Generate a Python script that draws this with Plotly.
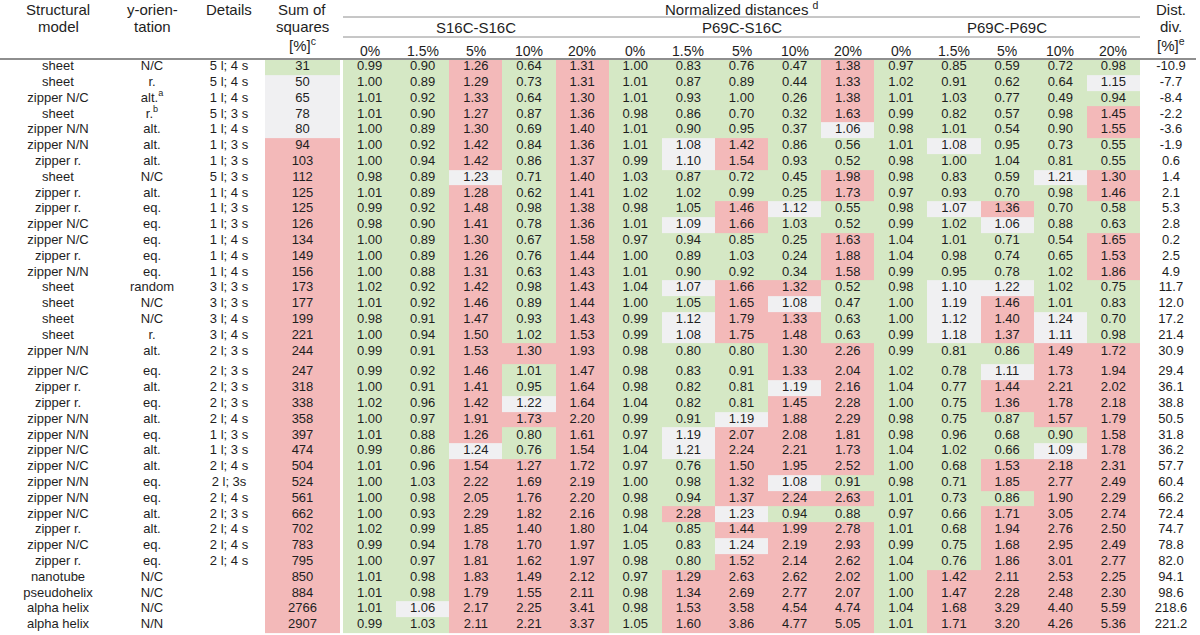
import plotly.graph_objects as go

# ---------------- data ----------------
models = ["sheet", "sheet", "zipper N/C", "sheet", "zipper N/N", "zipper N/N", "zipper r.", "sheet",
          "zipper r.", "zipper r.", "zipper N/C", "zipper N/C", "zipper r.", "zipper N/N", "sheet", "sheet",
          "sheet", "sheet", "zipper N/N", "zipper N/C", "zipper r.", "zipper r.", "zipper N/N", "zipper N/N",
          "zipper N/C", "zipper N/C", "zipper N/N", "zipper N/N", "zipper N/C", "zipper r.", "zipper N/C",
          "zipper r.", "nanotube", "pseudohelix", "alpha helix", "alpha helix"]
orient = ["N/C", "r.", "alt.<sup>a</sup>", "r.<sup>b</sup>", "alt.", "alt.", "alt.", "N/C", "alt.", "eq.",
          "eq.", "eq.", "eq.", "eq.", "random", "N/C", "N/C", "r.", "alt.", "eq.", "alt.", "eq.", "alt.",
          "eq.", "alt.", "alt.", "eq.", "eq.", "alt.", "alt.", "eq.", "eq.", "N/C", "N/C", "N/C", "N/N"]
details = ["5 l; 4 s", "5 l; 4 s", "1 l; 4 s", "5 l; 3 s", "1 l; 4 s", "1 l; 3 s", "1 l; 3 s", "5 l; 3 s",
           "1 l; 4 s", "1 l; 3 s", "1 l; 3 s", "1 l; 4 s", "1 l; 4 s", "1 l; 4 s", "3 l; 3 s", "3 l; 3 s",
           "3 l; 4 s", "3 l; 4 s", "2 l; 3 s", "2 l; 3 s", "2 l; 3 s", "2 l; 3 s", "2 l; 4 s", "1 l; 3 s",
           "1 l; 3 s", "2 l; 4 s", "2 l; 3s", "2 l; 4 s", "2 l; 3 s", "2 l; 4 s", "2 l; 4 s", "2 l; 4 s",
           "", "", "", ""]
sumsq = [31, 50, 65, 78, 80, 94, 103, 112, 125, 125, 126, 134, 149, 156, 173, 177, 199, 221, 244, 247,
         318, 338, 358, 397, 474, 504, 524, 561, 662, 702, 783, 795, 850, 884, 2766, 2907]

s16_0 = [0.99, 1.00, 1.01, 1.01, 1.00, 1.00, 1.00, 0.98, 1.01, 0.99, 0.98, 1.00, 1.00, 1.00, 1.02, 1.01, 0.98, 1.00,
         0.99, 0.99, 1.00, 1.02, 1.00, 1.01, 0.99, 1.01, 1.00, 1.00, 1.00, 1.02, 0.99, 1.00, 1.01, 1.01, 1.01, 0.99]
s16_15 = [0.90, 0.89, 0.92, 0.90, 0.89, 0.92, 0.94, 0.89, 0.89, 0.92, 0.90, 0.89, 0.89, 0.88, 0.92, 0.92, 0.91, 0.94,
          0.91, 0.92, 0.91, 0.96, 0.97, 0.88, 0.86, 0.96, 1.03, 0.98, 0.93, 0.99, 0.94, 0.97, 0.98, 0.98, 1.06, 1.03]
s16_5 = [1.26, 1.29, 1.33, 1.27, 1.30, 1.42, 1.42, 1.23, 1.28, 1.48, 1.41, 1.30, 1.26, 1.31, 1.42, 1.46, 1.47, 1.50,
         1.53, 1.46, 1.41, 1.42, 1.91, 1.26, 1.24, 1.54, 2.22, 2.05, 2.29, 1.85, 1.78, 1.81, 1.83, 1.79, 2.17, 2.11]
s16_10 = [0.64, 0.73, 0.64, 0.87, 0.69, 0.84, 0.86, 0.71, 0.62, 0.98, 0.78, 0.67, 0.76, 0.63, 0.98, 0.89, 0.93, 1.02,
          1.30, 1.01, 0.95, 1.22, 1.73, 0.80, 0.76, 1.27, 1.69, 1.76, 1.82, 1.40, 1.70, 1.62, 1.49, 1.55, 2.25, 2.21]
s16_20 = [1.31, 1.31, 1.30, 1.36, 1.40, 1.36, 1.37, 1.40, 1.41, 1.38, 1.36, 1.58, 1.44, 1.43, 1.43, 1.44, 1.43, 1.53,
          1.93, 1.47, 1.64, 1.64, 2.20, 1.61, 1.54, 1.72, 2.19, 2.20, 2.16, 1.80, 1.97, 1.97, 2.12, 2.11, 3.41, 3.37]

ps_0 = [1.00, 1.01, 1.01, 0.98, 1.01, 1.01, 0.99, 1.03, 1.02, 0.98, 1.01, 0.97, 1.00, 1.01, 1.04, 1.00, 0.99, 0.99,
        0.98, 0.98, 0.98, 1.04, 0.99, 0.97, 1.04, 0.97, 1.00, 0.98, 0.98, 1.04, 1.05, 0.98, 0.97, 0.98, 0.98, 1.05]
ps_15 = [0.83, 0.87, 0.93, 0.86, 0.90, 1.08, 1.10, 0.87, 1.02, 1.05, 1.09, 0.94, 0.89, 0.90, 1.07, 1.05, 1.12, 1.08,
         0.80, 0.83, 0.82, 0.82, 0.91, 1.19, 1.21, 0.76, 0.98, 0.94, 2.28, 0.85, 0.83, 0.80, 1.29, 1.34, 1.53, 1.60]
ps_5 = [0.76, 0.89, 1.00, 0.70, 0.95, 1.42, 1.54, 0.72, 0.99, 1.46, 1.66, 0.85, 1.03, 0.92, 1.66, 1.65, 1.79, 1.75,
        0.80, 0.91, 0.81, 0.81, 1.19, 2.07, 2.24, 1.50, 1.32, 1.37, 1.23, 1.44, 1.24, 1.52, 2.63, 2.69, 3.58, 3.86]
ps_10 = [0.47, 0.44, 0.26, 0.32, 0.37, 0.86, 0.93, 0.45, 0.25, 1.12, 1.03, 0.25, 0.24, 0.34, 1.32, 1.08, 1.33, 1.48,
         1.30, 1.33, 1.19, 1.45, 1.88, 2.08, 2.21, 1.95, 1.08, 2.24, 0.94, 1.99, 2.19, 2.14, 2.62, 2.77, 4.54, 4.77]
ps_20 = [1.38, 1.33, 1.38, 1.63, 1.06, 0.56, 0.52, 1.98, 1.73, 0.55, 0.52, 1.63, 1.88, 1.58, 0.52, 0.47, 0.63, 0.63,
         2.26, 2.04, 2.16, 2.28, 2.29, 1.81, 1.73, 2.52, 0.91, 2.63, 0.88, 2.78, 2.93, 2.62, 2.02, 2.07, 4.74, 5.05]

pp_0 = [0.97, 1.02, 1.01, 0.99, 0.98, 1.01, 0.98, 0.98, 0.97, 0.98, 0.99, 1.04, 1.04, 0.99, 0.98, 1.00, 1.00, 0.99,
        0.99, 1.02, 1.04, 1.00, 0.98, 0.98, 1.04, 1.00, 0.98, 1.01, 0.97, 1.01, 0.99, 1.04, 1.00, 1.00, 1.04, 1.01]
pp_15 = [0.85, 0.91, 1.03, 0.82, 1.01, 1.08, 1.00, 0.83, 0.93, 1.07, 1.02, 1.01, 0.98, 0.95, 1.10, 1.19, 1.12, 1.18,
         0.81, 0.78, 0.77, 0.75, 0.75, 0.96, 1.02, 0.68, 0.71, 0.73, 0.66, 0.68, 0.75, 0.76, 1.42, 1.47, 1.68, 1.71]
pp_5 = [0.59, 0.62, 0.77, 0.57, 0.54, 0.95, 1.04, 0.59, 0.70, 1.36, 1.06, 0.71, 0.74, 0.78, 1.22, 1.46, 1.40, 1.37,
        0.86, 1.11, 1.44, 1.36, 0.87, 0.68, 0.66, 1.53, 1.85, 0.86, 1.71, 1.94, 1.68, 1.86, 2.11, 2.28, 3.29, 3.20]
pp_10 = [0.72, 0.64, 0.49, 0.98, 0.90, 0.73, 0.81, 1.21, 0.98, 0.70, 0.88, 0.54, 0.65, 1.02, 1.02, 1.01, 1.24, 1.11,
         1.49, 1.73, 2.21, 1.78, 1.57, 0.90, 1.09, 2.18, 2.77, 1.90, 3.05, 2.76, 2.95, 3.01, 2.53, 2.48, 4.40, 4.26]
pp_20 = [0.98, 1.15, 0.94, 1.45, 1.55, 0.55, 0.55, 1.30, 1.46, 0.58, 0.63, 1.65, 1.53, 1.86, 0.75, 0.83, 0.70, 0.98,
         1.72, 1.94, 2.02, 2.18, 1.79, 1.58, 1.78, 2.31, 2.49, 2.29, 2.74, 2.50, 2.49, 2.77, 2.25, 2.30, 5.59, 5.36]

distdiv = [-10.9, -7.7, -8.4, -2.2, -3.6, -1.9, 0.6, 1.4, 2.1, 5.3, 2.8, 0.2, 2.5, 4.9, 11.7, 12.0, 17.2, 21.4,
           30.9, 29.4, 36.1, 38.8, 50.5, 31.8, 36.2, 57.7, 60.4, 66.2, 72.4, 74.7, 78.8, 82.0, 94.1, 98.6, 218.6, 221.2]

groups = ["S16C-S16C", "P69C-S16C", "P69C-P69C"]
pct_labels = ["0%", "1.5%", "5%", "10%", "20%"]
value_cols = [s16_0, s16_15, s16_5, s16_10, s16_20,
              ps_0, ps_15, ps_5, ps_10, ps_20,
              pp_0, pp_15, pp_5, pp_10, pp_20]

# classification thresholds (green / grey / red)
DIST_GREEN, DIST_GREY = 1.055, 1.255
SUM_GREEN, SUM_GREY = 40, 90

# ---------------- layout constants ----------------
W, H = 1200, 635
ROW0, RS, GAP, GAP_AFTER = 67.0, 15.8, 5.0, 18
X0, X1 = 343.0, 1140.0
CW = (X1 - X0) / 15
SUM_L, SUM_R = 265.0, 340.0
FONT = "Liberation Sans, Arial, sans-serif"
TXT = "#1e1e1e"
GREEN, GREY, RED = "#d5e8c5", "#f0f0f2", "#f3b9b9"
LINEC = "#8e8e8e"

n = len(models)
ycent = [ROW0 + RS * i + (GAP if i > GAP_AFTER else 0) for i in range(n)]
yedges = [ROW0 - RS / 2]
for i in range(n):
    yedges.append(yedges[-1] + RS + (GAP if i == GAP_AFTER else 0))

xcent = [X0 + CW * (k + 0.5) for k in range(15)]
xedges = [SUM_L, SUM_R, X0] + [X0 + CW * (k + 1) for k in range(15)]


def cls_dist(v):
    return 0 if v < DIST_GREEN else (1 if v < DIST_GREY else 2)


def cls_sum(v):
    return 0 if v < SUM_GREEN else (1 if v < SUM_GREY else 2)


z = []
for i in range(n):
    row = [cls_sum(sumsq[i]), None] + [cls_dist(col[i]) for col in value_cols]
    z.append(row)

fig = go.Figure()
fig.add_trace(go.Heatmap(
    x=xedges, y=yedges, z=z, zmin=0, zmax=2,
    colorscale=[[0, GREEN], [1 / 3, GREEN], [1 / 3, GREY], [2 / 3, GREY], [2 / 3, RED], [1, RED]],
    showscale=False, hoverinfo="skip", xgap=0, ygap=0))


def text_col(x, texts, size=13):
    ys = [ycent[i] for i, t in enumerate(texts) if t]
    ts = [t for t in texts if t]
    fig.add_trace(go.Scatter(x=[x] * len(ts), y=ys, text=ts, mode="text",
                             textposition="middle center",
                             textfont=dict(family=FONT, size=size, color=TXT),
                             hoverinfo="skip", showlegend=False))


text_col(58, models)
text_col(152, orient)
text_col(229, details)
text_col((SUM_L + SUM_R) / 2, [str(v) for v in sumsq])
for k, col in enumerate(value_cols):
    text_col(xcent[k], [f"{v:.2f}" for v in col])
text_col(1171, [f"{v:.1f}" for v in distdiv])

# ---------------- header ----------------
HF = 15
ann = []


def hdr(x, y, t, size=HF):
    ann.append(dict(x=x, y=y, text=t, showarrow=False, xref="x", yref="y",
                    xanchor="center", yanchor="middle",
                    font=dict(family=FONT, size=size, color=TXT)))


hdr(58, 9, "Structural")
hdr(58, 26, "model")
hdr(152, 9, "y-orien-")
hdr(152, 26, "tation")
hdr(229, 9, "Details")
hdr(302, 9, "Sum of")
hdr(302, 26, "squares")
hdr(302, 44, "[%]<sup>c</sup>")
hdr((X0 + X1) / 2, 8, "Normalized distances <sup>d</sup>")
for g, name in enumerate(groups):
    hdr(X0 + CW * (5 * g + 2.5), 27, name)
for k in range(15):
    hdr(xcent[k], 51, pct_labels[k % 5], size=14)
hdr(1171, 9, "Dist.")
hdr(1171, 26, "div.")
hdr(1171, 44, "[%]<sup>e</sup>")

shapes = [
    dict(type="line", xref="x", yref="y", x0=X0, x1=X1, y0=17, y1=17, line=dict(color=LINEC, width=1)),
    dict(type="line", xref="x", yref="y", x0=X0, x1=X1, y0=37, y1=37, line=dict(color=LINEC, width=1)),
    dict(type="line", xref="x", yref="y", x0=0, x1=1196, y0=59, y1=59, line=dict(color=LINEC, width=2)),
]

fig.update_layout(
    width=W, height=H, margin=dict(l=0, r=0, t=0, b=0),
    paper_bgcolor="white", plot_bgcolor="white",
    xaxis=dict(range=[0, W], visible=False, fixedrange=True),
    yaxis=dict(range=[H, 0], visible=False, fixedrange=True),
    annotations=ann, shapes=shapes, showlegend=False,
)

fig.write_html("out.html", config={"displayModeBar": False},
               post_script="document.body.style.margin='0';document.body.style.overflow='hidden';")
